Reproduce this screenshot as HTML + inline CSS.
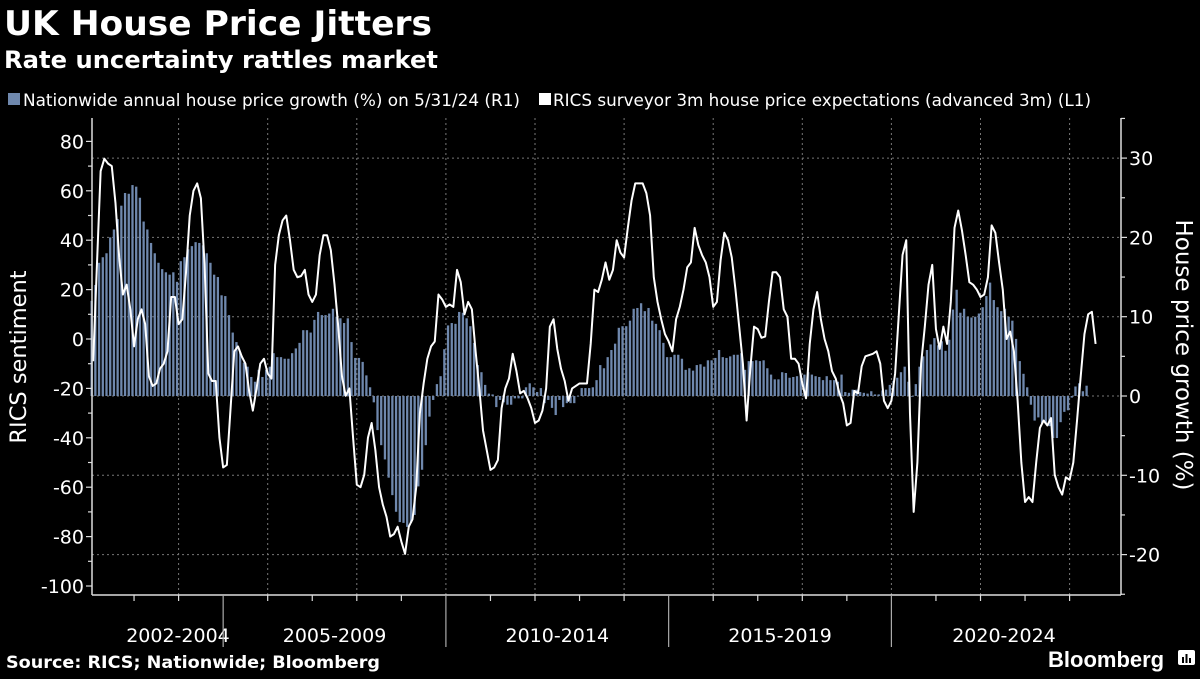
<!DOCTYPE html>
<html><head><meta charset="utf-8">
<style>
html,body{margin:0;padding:0;background:#000;}
body{width:1200px;height:675px;overflow:hidden;position:relative;font-family:"DejaVu Sans",sans-serif;color:#fff;}
svg text{font-family:"DejaVu Sans",sans-serif;}
</style></head>
<body>
<svg id="chart" width="1200" height="675" viewBox="0 0 1200 675" xmlns="http://www.w3.org/2000/svg">
  <rect x="0" y="0" width="1200" height="675" fill="#000"/>
  <text x="4" y="35" font-size="34" font-weight="bold" fill="#fff" textLength="428" lengthAdjust="spacingAndGlyphs">UK House Price Jitters</text>
  <text x="4" y="68" font-size="24" font-weight="bold" fill="#fff" textLength="434" lengthAdjust="spacingAndGlyphs">Rate uncertainty rattles market</text>
  <g>
    <g>
      <rect x="8" y="93" width="12" height="12" fill="#6f88ad"/>
      <text x="23" y="106" font-size="16.5" fill="#fff" textLength="497" lengthAdjust="spacingAndGlyphs">Nationwide annual house price growth (%) on 5/31/24 (R1)</text>
    </g>
    <g>
      <rect x="539" y="93" width="12" height="12" fill="#fff"/>
      <text x="553" y="106" font-size="16.5" fill="#fff" textLength="538" lengthAdjust="spacingAndGlyphs">RICS surveyor 3m house price expectations (advanced 3m) (L1)</text>
    </g>
  </g>
  <g id="grid"></g>
  <g id="bars"></g>
  <g id="line"></g>
  <g id="axes"></g>
  <text transform="translate(26,357) rotate(-90)" text-anchor="middle" font-size="22.5" fill="#fff">RICS sentiment</text>
  <text transform="translate(1176,355) rotate(90)" text-anchor="middle" font-size="23" fill="#fff">House price growth (%)</text>
  <text x="6" y="668" font-size="17" font-weight="bold" fill="#fff" textLength="374" lengthAdjust="spacingAndGlyphs">Source: RICS; Nationwide; Bloomberg</text>
  <text x="1048" y="667" font-size="22" font-weight="bold" fill="#fff" style="font-family:'Liberation Sans',sans-serif">Bloomberg</text>
  <g>
    <rect x="1178" y="650" width="17" height="15" rx="2" fill="#fff"/>
    <rect x="1182" y="657" width="2" height="6" fill="#000"/>
    <rect x="1185.5" y="654" width="2" height="9" fill="#000"/>
    <rect x="1189" y="658" width="2" height="5" fill="#000"/>
  </g>
</svg>
<script>
// ---- data ----
const barStartYear = 2002; // Jan 2002, monthly
const barValues = [
12,14,16.8,17.5,18,20,21,22.3,24,25.6,25.5,26.6,
26.4,25,22,21,19.3,18,16.8,16,15.6,15.3,15.6,14.4,
17,17.5,18.5,18.9,19.4,19.3,19,18,16.8,15.3,15,12.7,
12.6,10.2,8,6.8,5.5,4.2,3.7,2.4,1.8,3.3,2.4,3.3,
3.7,5.4,4.9,4.9,4.7,4.7,5.4,6,6.7,8.3,8.3,8,
9.6,10.6,10.2,10.2,10.4,11,10,9.8,9.2,9.8,6.8,4.8,
4.8,4.3,2.6,1.1,-0.8,-4.3,-6.2,-8,-10.3,-12.5,-14.6,-15.9,
-16,-16.5,-16,-15,-11.4,-9.3,-6.2,-2.6,-0.5,1.5,2.5,5.9,
8.9,9.2,9.1,10.6,10.5,9.8,8.8,6.7,3.9,3,1.4,0.3,
0.2,-1.4,-0.5,-0.8,-1.1,-1.1,-0.3,-0.3,-0.3,1.1,1.6,1.1,
0.5,1,-0.9,-0.5,-1.5,-2.4,-0.5,-1.4,-0.9,-0.9,-0.9,0,
1,1,1,1.1,2,3.9,3.5,4.9,5.8,6.6,8.6,8.8,
8.8,9.5,11,11.1,11.7,10.7,11.1,9.5,9.1,8.3,6.7,4.9,
4.9,5.2,5.2,4.7,3.3,3.5,3.2,3.9,4,3.7,4.5,4.5,
4.8,5.8,4.9,4.8,5,5.2,5.2,5.4,3.3,4.4,4.4,4.5,
4.4,4.5,3.5,2.7,2.1,2.1,3.0,2.9,2.3,2.4,2.5,2.7,
2.7,3,2.7,2.5,2.4,2,2.5,2,2,1.8,2.7,0.5,
0.4,0.8,0.8,0.5,0.4,0.3,0.6,0.2,0.2,0.7,0.8,1.4,
1.9,2.3,3.0,3.7,1.8,-0.1,1.5,3.7,5.0,5.8,6.5,7.3,
6.4,6.9,5.7,7.1,10.9,13.4,10.5,11,10,9.9,10,10.4,
11.2,12.6,14.3,12.1,11.2,10.7,11,10,9.5,7.2,4.4,2.8,
1.1,-1.1,-3.1,-2.7,-3.4,-3.5,-3.8,-5.3,-5.3,-3.3,-2,-1.8,
-0.2,1.2,1.6,0.6,1.3
];
const lineStartMonth = 1; // Feb 2002 (months after Jan 2002), monthly
const lineValues = [
-9,30,68,73,71,70,55,33,18,22,12,
-3,8,12,6,-15,-19,-18,-12,-10,-5,17,17,
6,8,27,50,60,63,57,30,-14,-17,-17,-40,
-52,-51,-28,-5,-3,-7,-10,-21,-29,-20,-10,-8,
-14,-16,30,42,48,50,40,28,25,25.5,28,18,
15,18,34,42,42,36,22,5,-15,-23,-20,-40,
-59,-60,-55,-40,-34,-45,-60,-67,-72,-80,-79,-76,
-82,-87,-76,-73,-60,-30,-18,-8,-3,-1,18,16,
13,14,13,28,23,10,15,12,-5,-20,-37,-45,
-53,-52,-49,-28,-20,-16,-6,-13,-22,-21,-24,-28,
-34,-33,-29,-20,5,8,-4,-12,-17,-25,-20,-19,
-18,-18,-18,-2,20,19,24,31,24,28,40,35,
33,45,56,63,63,63,59,50,25,15,8,2,
-1,-5,8,13,20,29,31,45,38,34,31,25,
13,15,32,43,40,33,20,5,-10,-33,-12,5,
4,0.5,1,15,27,27,25,12,9,-8,-8,-10,
-18,-24,-2,12,19,8,0,-5,-13,-16,-22,-26,
-35,-34,-21,-22,-11,-7,-6.5,-6,-5,-10,-25,-28,
-25,-14,10,34,40,-30,-70,-50,-10,5,22,30,
4,-4,5,-2,15,45,52,44,34,23,22,20,
17,18,25,46,43,31,20,0,3,-5,-25,-50,
-66,-64,-66,-50,-36,-33,-35,-32,-55,-60,-63,-56,
-57,-50,-33,-15,2,10,11,-2
];
const leftTicks = [80,60,40,20,0,-20,-40,-60,-80,-100];
const rightTicks = [30,20,10,0,-10,-20];
const periodLabels = ["2002-2004","2005-2009","2010-2014","2015-2019","2020-2024"];
const periodStarts = [2002,2005,2010,2015,2020];
const periodEnds = [2005,2010,2015,2020,2025];

// ---- scales ----
const X0 = 89.5, PX_PER_YEAR = 44.55;
const xOfYear = y => X0 + (y - 2002) * PX_PER_YEAR;
const xOfMonth = m => xOfYear(2002 + m / 12);
const yLeft = v => 339 - v * 2.47;
const yRight = p => 396 - p * 7.93;
const PLOT_L = 92, PLOT_R = 1121, PLOT_T = 118, PLOT_B = 595;
const NS = "http://www.w3.org/2000/svg";
function mk(tag, attrs, parent){ const e=document.createElementNS(NS,tag); for(const k in attrs) e.setAttribute(k,attrs[k]); parent.appendChild(e); return e; }

// grid
const grid = document.getElementById('grid');
rightTicks.forEach(t => {
  const g = mk('line',{x1:PLOT_L,x2:PLOT_R,y1:yRight(t),y2:yRight(t),stroke:'#777','stroke-width':1,'stroke-dasharray':'2,3'},grid);
  
  
});
for (let y = 2004; y <= 2024; y += 2) {
  const g = mk('line',{x1:xOfYear(y),x2:xOfYear(y),y1:PLOT_T,y2:PLOT_B,stroke:'#777','stroke-width':1,'stroke-dasharray':'2,3'},grid);
  
  
}

// bars
const bars = document.getElementById('bars');
barValues.forEach((v, i) => {
  const x = xOfMonth(i) + 1;
  const y0 = yRight(0), y1 = yRight(v);
  const r = mk('rect',{x:x.toFixed(2),y:Math.min(y0,y1).toFixed(2),width:2.3,height:Math.max(0.6,Math.abs(y1-y0)).toFixed(2),fill:'#6f88ad'},bars);
  
  
});

// line
const lineG = document.getElementById('line');
const pts = lineValues.map((v, i) => xOfMonth(lineStartMonth + i).toFixed(2) + ',' + yLeft(v).toFixed(2)).join(' ');
const pl = mk('polyline',{points:pts,fill:'none',stroke:'#fff','stroke-width':2,'stroke-linejoin':'round'},lineG);



// axes
const axes = document.getElementById('axes');
mk('line',{x1:PLOT_L,x2:PLOT_L,y1:PLOT_T,y2:PLOT_B,stroke:'#ddd','stroke-width':1.5},axes);
mk('line',{x1:PLOT_R,x2:PLOT_R,y1:PLOT_T,y2:PLOT_B,stroke:'#ddd','stroke-width':1.5},axes);
mk('line',{x1:PLOT_L,x2:PLOT_R,y1:PLOT_B,y2:PLOT_B,stroke:'#ddd','stroke-width':1.5},axes);
for (let v = -100; v <= 80; v += 10) {
  const major = v % 20 === 0;
  mk('line',{x1:PLOT_L-(major?6:4),x2:PLOT_L,y1:yLeft(v),y2:yLeft(v),stroke:'#ddd','stroke-width':1.2},axes);
}
leftTicks.forEach(t => {
  const tx = mk('text',{x:84,y:yLeft(t)+7,'text-anchor':'end','font-size':19,fill:'#fff'},axes);
  tx.textContent = t;
  
  
});
for (let p = -25; p <= 35; p += 5) {
  const major = p % 10 === 0;
  mk('line',{x1:PLOT_R,x2:PLOT_R+(major?6:4),y1:yRight(p),y2:yRight(p),stroke:'#ddd','stroke-width':1.2},axes);
}
rightTicks.forEach(t => {
  const tx = mk('text',{x:1129,y:yRight(t)+7,'text-anchor':'start','font-size':19,fill:'#fff'},axes);
  tx.textContent = t;
  
  
});
for (let y = 2003; y <= 2024; y++) {
  if (y % 5 === 0) continue;
  mk('line',{x1:xOfYear(y),x2:xOfYear(y),y1:PLOT_B,y2:PLOT_B+6,stroke:'#ddd','stroke-width':1.2},axes);
}
periodStarts.forEach((s, i) => {
  if (i > 0) mk('line',{x1:xOfYear(s),x2:xOfYear(s),y1:PLOT_B,y2:647,stroke:'#aaa','stroke-width':1.2},axes);
  let cx = (xOfYear(s) + Math.min(xOfYear(periodEnds[i]), PLOT_R + 6)) / 2;
  if (i === 0) cx = 178;
  if (i === 4) cx = 1004;
  const tx = mk('text',{x:cx,y:642,'text-anchor':'middle','font-size':19,fill:'#fff'},axes);
  tx.textContent = periodLabels[i];
  
  
});
</script>
</body></html>
